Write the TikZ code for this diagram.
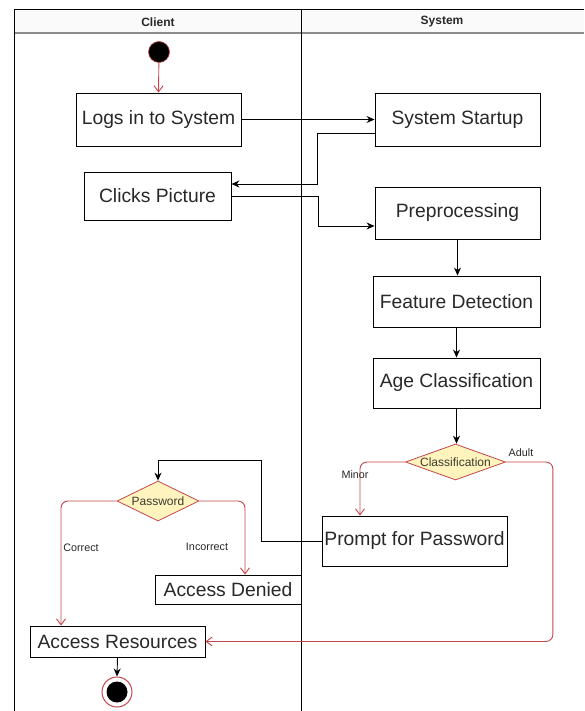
\documentclass[tikz,border=0pt]{standalone}
\usepackage{fontspec}
\setmainfont{Liberation Sans}
\usetikzlibrary{shapes.geometric,arrows.meta,calc}
\definecolor{redline}{RGB}{196,70,74}
\definecolor{dfill}{RGB}{255,244,190}
\definecolor{hdrline}{RGB}{140,140,140}
\definecolor{txt}{RGB}{40,40,40}
\begin{document}
\begin{tikzpicture}[x=1pt,y=-1pt,
  box/.style={draw, line width=0.9pt, inner sep=0pt, text=txt,
    font=\fontsize{19.3}{21}\selectfont},
  dia/.style={diamond, draw=redline, fill=dfill, line width=0.8pt, inner sep=0pt},
  dtext/.style={font=\fontsize{12}{14}\selectfont, text=black!75!olive},
  lab/.style={font=\fontsize{10.8}{12}\selectfont, text=txt},
  arr/.style={draw, line width=0.9pt, -{Stealth[length=8pt,width=7pt]}},
  redarr/.style={draw=redline, line width=0.9pt, rounded corners=7pt,
    -{Straight Barb[length=6pt,width=9pt]}},
  hdr/.style={font=\fontsize{12}{14}\selectfont\bfseries, text=txt}
]
\useasboundingbox (0,0) rectangle (584,711);
% swimlane pool
\fill[black!2] (14,10) rectangle (584,33);
\draw[line width=1.2pt, hdrline] (14,33) -- (584,33);
\draw[line width=1pt] (584,10) -- (14,10) -- (14,711);
\draw[line width=1pt] (301,10) -- (301,711);
\node[hdr] (lc) at (158,22) {Client};
\node[hdr] (ls) at (442,22) {System};

% start and end
\node[circle, fill=black, draw=redline, line width=0.6pt, minimum size=21pt, inner sep=0pt] (start) at (159,52) {};
\node[circle, draw=redline, line width=1pt, minimum size=30pt, inner sep=0pt] (end) at (117,692) {};
\node[circle, fill=black, minimum size=21pt, inner sep=0pt] (endin) at (end) {};

% activities
\node[box, minimum width=165pt, minimum height=53pt] (login) at (158.5,119.5) {Logs in to System};
\node[box, minimum width=165pt, minimum height=53pt] (startup) at (457.5,119.5) {System Startup};
\node[box, minimum width=147pt, minimum height=48pt] (clicks) at (157.5,196) {Clicks Picture};
\node[box, minimum width=165pt, minimum height=52pt] (preproc) at (457.5,213) {Preprocessing};
\node[box, minimum width=167pt, minimum height=51pt] (feature) at (456.5,301.5) {Feature Detection};
\node[box, minimum width=167pt, minimum height=50pt] (age) at (456.5,383) {Age Classification};
\node[box, minimum width=185pt, minimum height=50pt] (prompt) at (414.5,541) {Prompt for Password};
\node[box, minimum width=146pt, minimum height=29pt] (denied) at (228,589.5) {Access Denied};
\node[box, minimum width=175pt, minimum height=31pt] (resources) at (117.5,641.5) {Access Resources};

% decisions
\node[dia, minimum width=100pt, minimum height=36pt] (class) at (455.5,462) {};
\node[dtext] (classt) at (class) {Classification};
\node[dia, minimum width=82pt, minimum height=40pt] (password) at (158,501) {};
\node[dtext] (passt) at (password) {Password};

% connectors
\draw[redarr] (start) -- (login.north);
\draw[arr] (login.east) -- (startup.west);
\draw[arr] ([yshift=-13.5pt]startup.west) -- ++(-57,0) |- ([yshift=12pt]clicks.east);
\draw[arr] (clicks.east) -- ++(87,0) |- ([yshift=-13pt]preproc.west);
\draw[arr] (preproc.south) -- (preproc.south |- feature.north);
\draw[arr] (feature.south) -- (feature.south |- age.north);
\draw[arr] (age.south) -- (age.south |- class.north);
\draw[redarr] (class.west) -| ([xshift=-54.5pt]prompt.north);
\draw[redarr] (class.east) -- ++(47,0) |- (resources.east);
\draw[arr] (prompt.west) -- ++(-60,0) -- ++(0,-81) -| (password.north);
\draw[redarr] (password.west) -| ([xshift=-56.5pt]resources.north);
\draw[redarr] (password.east) -| ([xshift=17pt]denied.north);
\draw[arr] (resources.south) -- (end.north);

% labels
\node[lab] (lminor) at (355,475) {Minor};
\node[lab] (ladult) at (521,453) {Adult};
\node[lab] (lcorrect) at (81,547.5) {Correct};
\node[lab] (lincorrect) at (207,547) {Incorrect};
\end{tikzpicture}
\end{document}
